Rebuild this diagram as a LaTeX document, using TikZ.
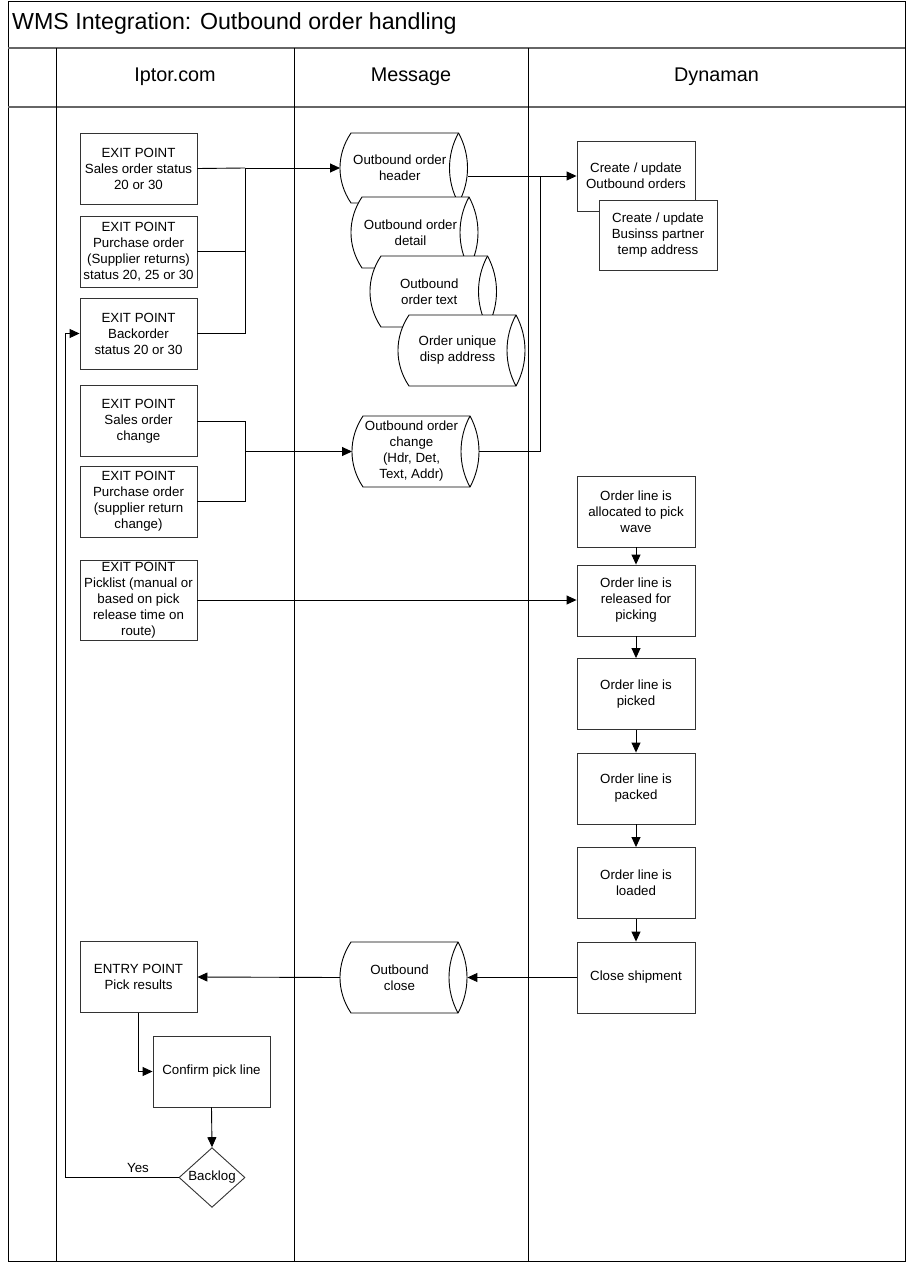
\documentclass[tikz,border=0pt]{standalone}
\usepackage{fontspec}
\setmainfont{Liberation Sans}
\usetikzlibrary{arrows.meta,shapes.geometric}
\tikzset{
  box/.style={draw=black!80, line width=0.9pt, fill=white, minimum width=117pt, minimum height=71pt, inner sep=0pt, align=center, font=\fontsize{13.3}{16}\selectfont},
  txt/.style={inner sep=0pt, align=center, font=\fontsize{13.3}{16}\selectfont},
  conn/.style={line width=0.9pt, black},
  arr/.style={conn, -{Triangle[length=10pt,width=9pt]}},
  frame/.style={line width=0.9pt, black},
  sepline/.style={line width=1.6pt, black!60},
  decision/.style={draw=black!80, line width=0.9pt, fill=white, shape=diamond, minimum width=66pt, minimum height=59pt, inner sep=0pt, font=\fontsize{13.3}{16}\selectfont},
}
% name, left, top, front-face x, bottom, text
\newcommand\cylnode[6]{%
  \pgfmathsetmacro\cylry{(#5-#3)/2}%
  \pgfmathsetmacro\cylm{(#5+#3)/2}%
  \pgfmathsetmacro\cylx{#2+11}%
  \pgfmathsetmacro\cylxl{#2+11-14.7}%
  \pgfmathsetmacro\cylw{#4+9-#2}%
  \pgfmathsetmacro\cyltx{(#2+11+#4)/2-5}%
  \pgfmathsetmacro\cylta{#3+0.31*(#5-#3)}%
  \pgfmathsetmacro\cyltb{#5-0.31*(#5-#3)}%
  \pgfmathsetmacro\cylro{#4+12}%
  \pgfmathsetmacro\cylri{#4-12}%
  \draw[line width=0.9pt, fill=white] (\cylx,#3) -- (#4,#3)
     .. controls (\cylro,\cylta) and (\cylro,\cyltb) .. (#4,#5)
     -- (\cylx,#5)
     .. controls (\cylxl,\cyltb) and (\cylxl,\cylta) .. (\cylx,#3) -- cycle;
  \draw[line width=0.9pt] (#4,#3) .. controls (\cylri,\cylta) and (\cylri,\cyltb) .. (#4,#5);
  \node[inner sep=0pt, minimum width=\cylw pt, minimum height=2*\cylry pt, anchor=west] (#1) at (#2,\cylm) {};
  \node[txt] at (\cyltx,\cylm) {#6};
}
\begin{document}
\begin{tikzpicture}[x=1pt,y=-1pt]
\useasboundingbox (0,0) rectangle (907,1263);
% frame
\draw[frame] (8,1) rectangle (905,1261);
\draw[sepline] (8,48) -- (905,48);
\draw[sepline] (8,107) -- (905,107);
\draw[frame] (56,48) -- (56,1261);
\draw[frame] (294,48) -- (294,1261);
\draw[frame] (528,48) -- (528,1261);
\node[anchor=west, inner sep=0pt, font=\fontsize{23.2}{27}\selectfont] (title) at (12,24) {WMS Integration: Outbound order handling};
\node[inner sep=0pt, font=\fontsize{19.8}{23}\selectfont] (h1) at (175,77) {Iptor.com};
\node[inner sep=0pt, font=\fontsize{19.8}{23}\selectfont] (h2) at (411,77) {Message};
\node[inner sep=0pt, font=\fontsize{19.8}{23}\selectfont] (h3) at (716.5,77) {Dynaman};

% Iptor column
\node[box] (E1) at (138.5,168.5) {EXIT POINT\\Sales order status\\20 or 30};
\node[box] (E2) at (138.5,251.5) {EXIT POINT\\Purchase order\\(Supplier returns)\\status 20, 25 or 30};
\node[box] (E3) at (138.5,333.5) {EXIT POINT\\Backorder\\status 20 or 30};
\node[box] (E4) at (138.5,421) {EXIT POINT\\Sales order\\change};
\node[box] (E5) at (138.5,501.5) {EXIT POINT\\Purchase order\\(supplier return\\change)};
\node[box, minimum height=80pt] (E6) at (138.5,600) {EXIT POINT\\Picklist (manual or\\based on pick\\release time on\\route)};
\node[box] (ENT) at (138.5,977) {ENTRY POINT\\Pick results};
\node[box] (CF) at (211.5,1071.5) {Confirm pick line};
\node[decision] (BL) at (212,1177.5) {Backlog};

% Message column
\cylnode{C1}{340}{133}{458.5}{203}{Outbound order\\header}
\cylnode{C2}{351}{197}{469}{268}{Outbound order\\detail}
\cylnode{C3}{370}{256}{487.5}{327}{Outbound\\order text}
\cylnode{C4}{398}{315}{516}{386}{Order unique\\disp address}
\cylnode{CC}{352}{416}{470}{487}{Outbound order\\change\\(Hdr, Det,\\Text, Addr)}
\cylnode{OC}{340}{942}{458}{1013}{Outbound\\close}

% Dynaman column
\node[box, minimum width=118pt, minimum height=70pt] (D1) at (636,176) {Create / update\\Outbound orders};
\node[box, minimum width=118pt, minimum height=70pt] (D2) at (658,235) {Create / update\\Businss partner\\temp address};
\node[box, minimum width=118pt] (A1) at (636,511.5) {Order line is\\allocated to pick\\wave};
\node[box, minimum width=118pt] (A2) at (636,600.5) {Order line is\\released for\\picking};
\node[box, minimum width=118pt] (A3) at (636,694) {Order line is\\picked};
\node[box, minimum width=118pt] (A4) at (636,788.5) {Order line is\\packed};
\node[box, minimum width=118pt] (A5) at (636,883) {Order line is\\loaded};
\node[box, minimum width=118pt] (A6) at (636,977.5) {Close shipment};

% connectors
\coordinate (bus1) at (245,168);
\draw[conn] (E1.east) -- (bus1);
\draw[conn] (E2.east) -| (bus1);
\draw[conn] (E3.east) -| (bus1);
\draw[arr] (bus1) -- (C1.west);
\coordinate (bus2) at (245,451.5);
\draw[conn] (E4.east) -| (bus2);
\draw[conn] (E5.east) -| (bus2);
\draw[arr] (bus2) -- (CC.west);
\coordinate (join) at (540,176);
\draw[conn] (CC.east) -| (join);
\draw[arr] (C1.east |- D1.west) -- (D1.west);
\draw[arr] (E6.east) -- (E6.east -| A2.west);
\draw[arr] (A1.south) -- (A2.north);
\draw[arr] (A2.south) -- (A3.north);
\draw[arr] (A3.south) -- (A4.north);
\draw[arr] (A4.south) -- (A5.north);
\draw[arr] (A5.south) -- (A6.north);
\draw[arr] (A6.west) -- (OC.east);
\draw[arr] (OC.west) -- (ENT.east);
\draw[arr] (ENT.south) |- (CF.west);
\draw[arr] (CF.south) -- (BL.north);
\coordinate (loopc) at (65,1177.5);
\draw[arr] (BL.west) -- (loopc) |- (E3.west);
\node[txt] (yes) at (138,1168) {Yes};
\end{tikzpicture}
\end{document}
